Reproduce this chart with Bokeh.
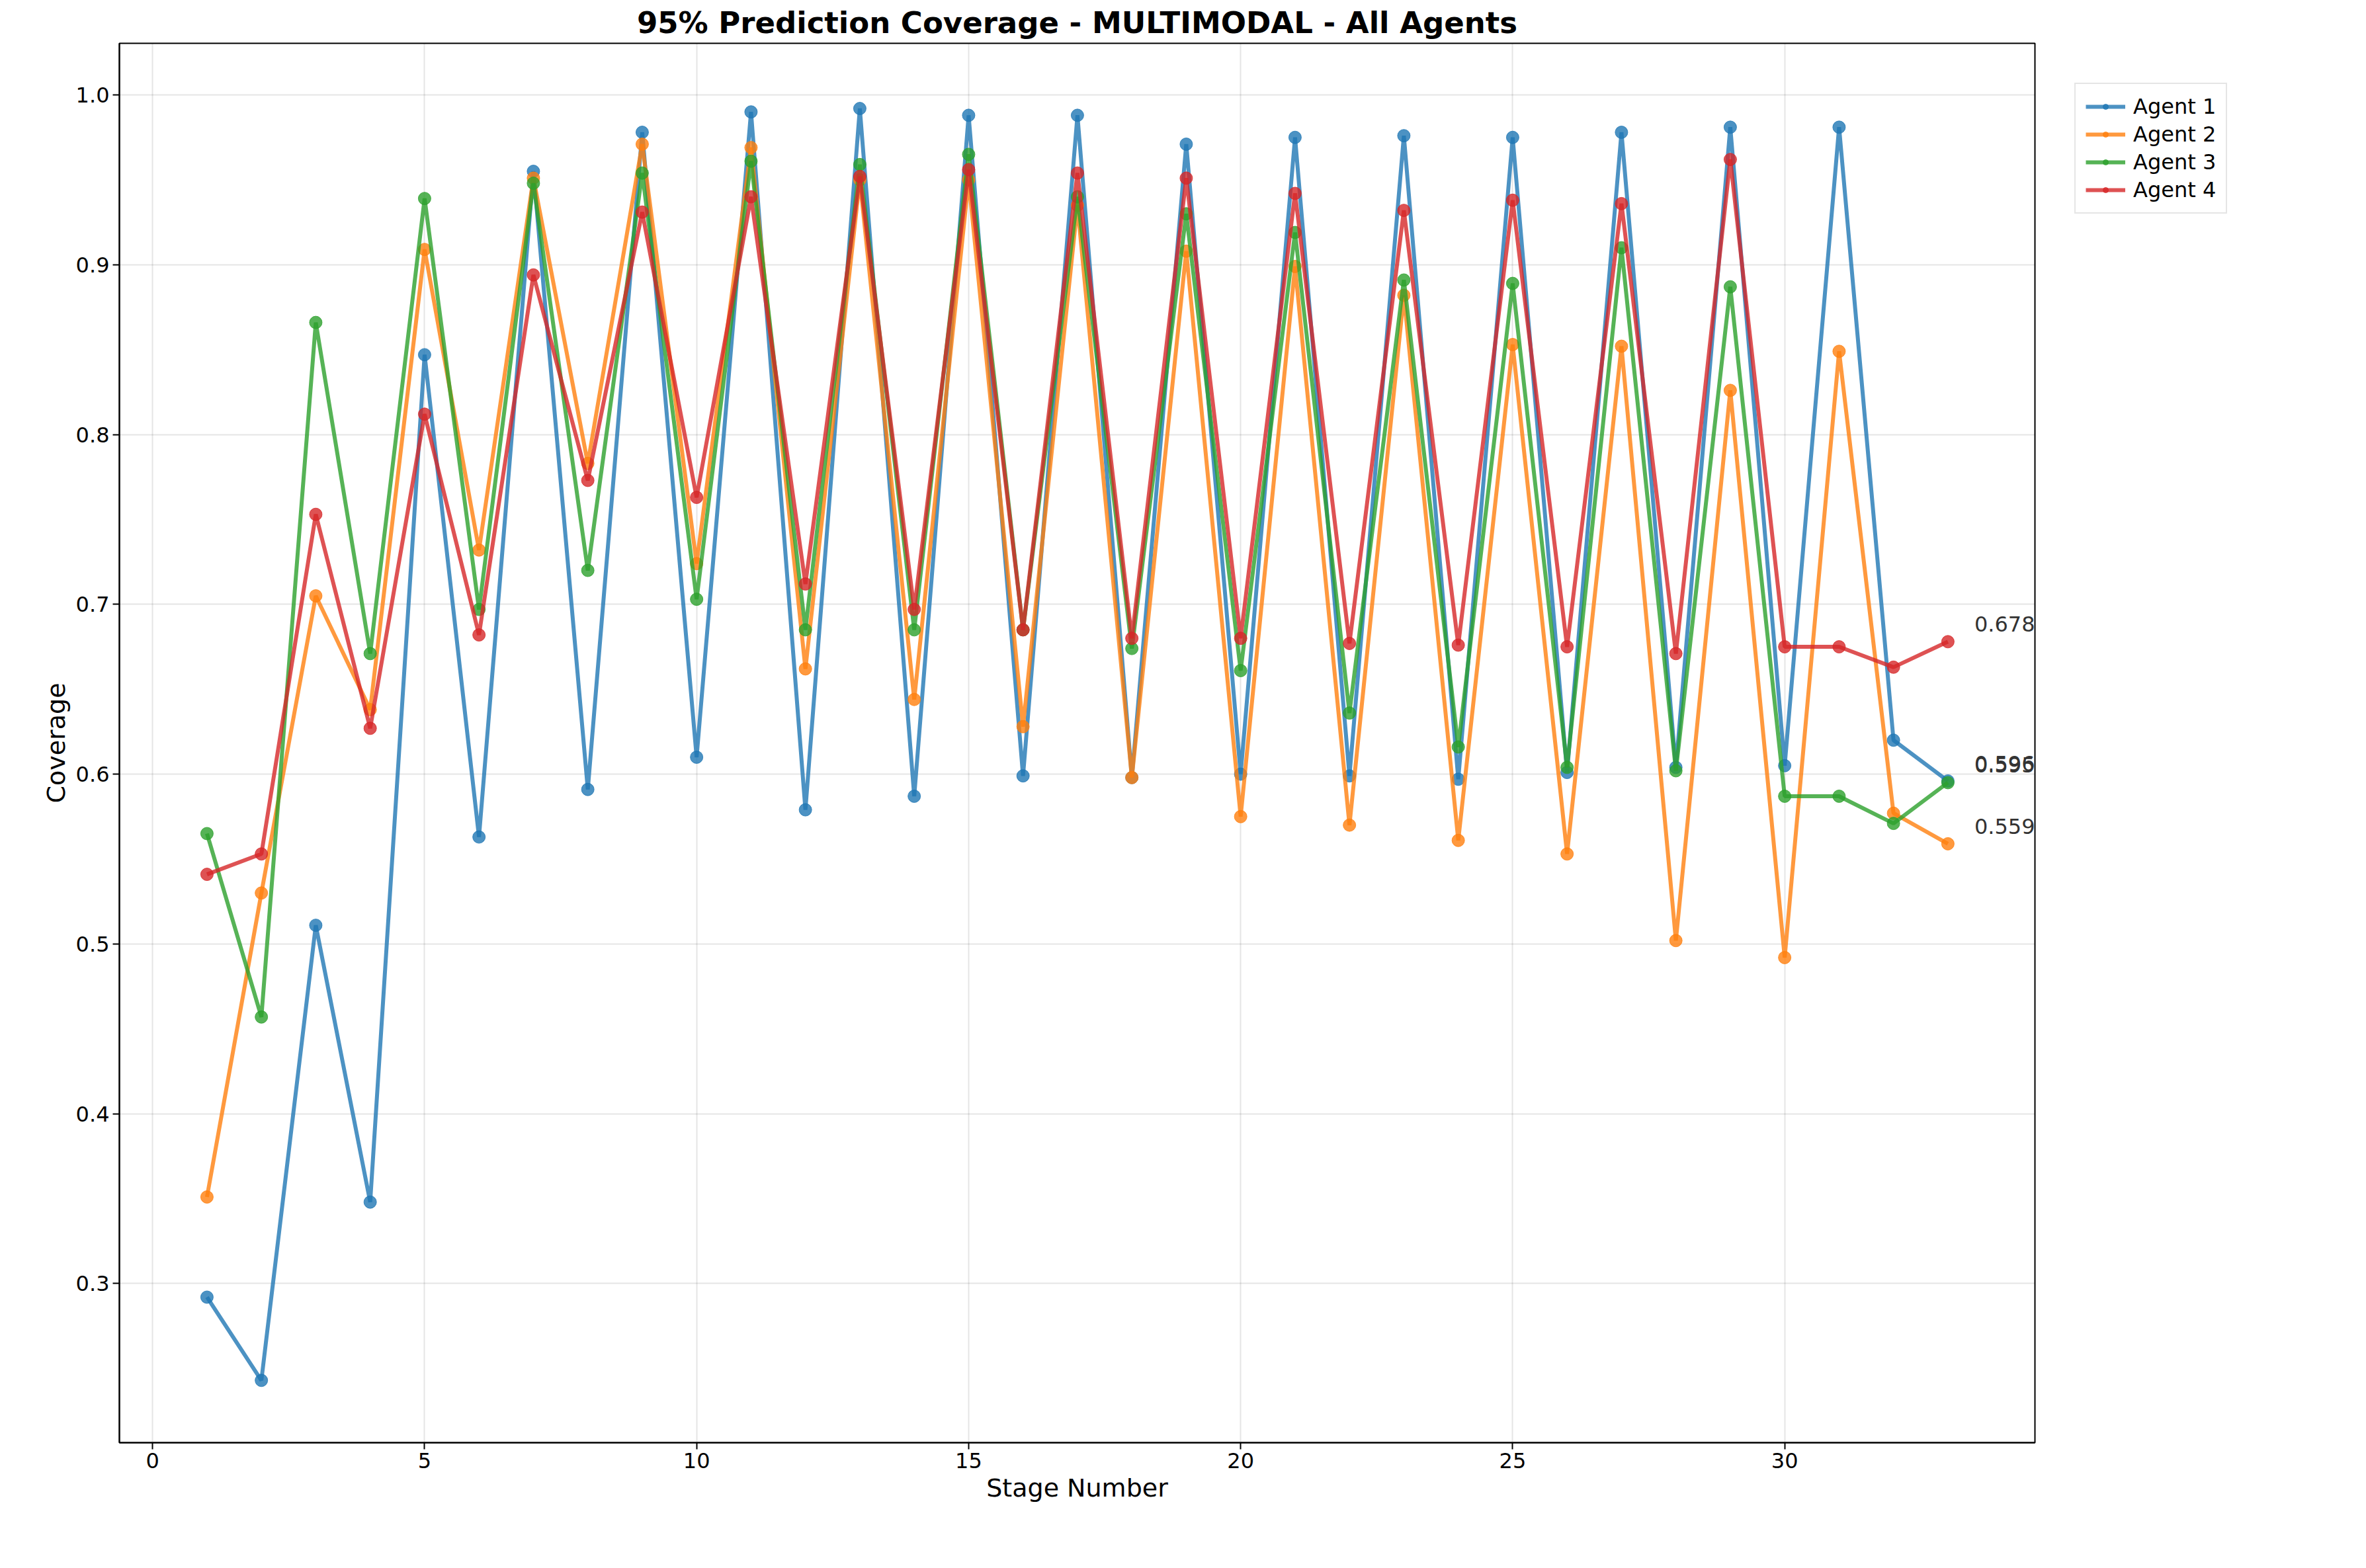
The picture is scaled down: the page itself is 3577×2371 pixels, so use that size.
from bokeh.plotting import figure
from bokeh.models import Legend, LegendItem, Range1d, FixedTicker, CustomJSTickFormatter
from bokeh.core.properties import value
from bokeh.embed import file_html
from bokeh.resources import INLINE

stages = list(range(1, 34))
agent1 = [0.292, 0.243, 0.511, 0.348, 0.847, 0.563, 0.955, 0.591, 0.978, 0.610, 0.990, 0.579, 0.992, 0.587, 0.988, 0.599, 0.988,
          0.598, 0.971, 0.600, 0.975, 0.599, 0.976, 0.597, 0.975, 0.601, 0.978, 0.604, 0.981, 0.605, 0.981, 0.620, 0.596]
agent2 = [0.351, 0.530, 0.705, 0.638, 0.909, 0.732, 0.951, 0.783, 0.971, 0.724, 0.969, 0.662, 0.950, 0.644, 0.950, 0.628, 0.935,
          0.598, 0.908, 0.575, 0.899, 0.570, 0.882, 0.561, 0.853, 0.553, 0.852, 0.502, 0.826, 0.492, 0.849, 0.577, 0.559]
agent3 = [0.565, 0.457, 0.866, 0.671, 0.939, 0.697, 0.948, 0.720, 0.954, 0.703, 0.961, 0.685, 0.959, 0.685, 0.965, 0.685, 0.940,
          0.674, 0.930, 0.661, 0.919, 0.636, 0.891, 0.616, 0.889, 0.604, 0.910, 0.602, 0.887, 0.587, 0.587, 0.571, 0.595]
agent4 = [0.541, 0.553, 0.753, 0.627, 0.812, 0.682, 0.894, 0.773, 0.931, 0.763, 0.940, 0.712, 0.952, 0.697, 0.956, 0.685, 0.954,
          0.680, 0.951, 0.680, 0.942, 0.677, 0.932, 0.676, 0.938, 0.675, 0.936, 0.671, 0.962, 0.675, 0.675, 0.663, 0.678]
names = ["Agent 1", "Agent 2", "Agent 3", "Agent 4"]
colors = ["#1f77b4", "#ff7f0e", "#2ca02c", "#d62728"]
series = [agent1, agent2, agent3, agent4]

p = figure(frame_width=2896, frame_height=2116, output_backend="svg", toolbar_location=None,
           title="95% Prediction Coverage - MULTIMODAL - All Agents",
           x_range=Range1d(-0.61, 34.6), y_range=Range1d(0.2063, 1.0304),
           min_border_left=180, min_border_top=40, min_border_bottom=120, min_border_right=10)
p.title.align = "center"
p.title.text_font = "DejaVu Sans"
p.title.text_font_size = "45px"
p.title.text_font_style = "bold"
p.title.text_color = "black"
p.xaxis.axis_label = "Stage Number"
p.yaxis.axis_label = "Coverage"
for ax in (p.xaxis, p.yaxis):
    ax.axis_label_text_font = "DejaVu Sans"
    ax.axis_label_text_font_size = "38px"
    ax.axis_label_text_font_style = "normal"
    ax.axis_label_text_color = "black"
    ax.major_label_text_font = "DejaVu Sans"
    ax.major_label_text_font_size = "32px"
    ax.major_label_text_color = "black"
    ax.major_tick_line_width = 2
    ax.major_tick_out = 10
    ax.major_tick_in = 0
    ax.minor_tick_line_color = None
    ax.axis_line_width = 2
p.xaxis.ticker = FixedTicker(ticks=[0, 5, 10, 15, 20, 25, 30])
p.yaxis.ticker = FixedTicker(ticks=[0.3, 0.4, 0.5, 0.6, 0.7, 0.8, 0.9, 1.0])
p.yaxis.formatter = CustomJSTickFormatter(code="return tick.toFixed(1);")
p.grid.grid_line_color = "#000000"
p.grid.grid_line_alpha = 0.1
p.grid.grid_line_width = 2
p.outline_line_color = "black"
p.outline_line_width = 2

items = []
for n, c, s in zip(names, colors, series):
    l = p.line(stages, s, line_color=c, line_width=6, line_alpha=0.8)
    m = p.scatter(stages, s, size=19, fill_color=c, line_color=c, alpha=0.8)
    items.append(LegendItem(label=n, renderers=[l, m]))
    p.text([stages[-1]], [s[-1]], text=[f"{s[-1]:.3f}"], x_offset=40, y_offset=-15,
           text_baseline="bottom", text_font_size="32px", text_color="#333333",
           text_font=value("DejaVu Sans"))

legend = Legend(items=items, location="top_left", label_text_font="DejaVu Sans", label_text_font_size="32px",
                label_text_color="black",
                border_line_color="#cccccc", border_line_width=2, margin=60, padding=15, spacing=4,
                glyph_width=60, label_standoff=12)
p.add_layout(legend, "right")

open("out.html", "w").write(file_html(p, INLINE))
